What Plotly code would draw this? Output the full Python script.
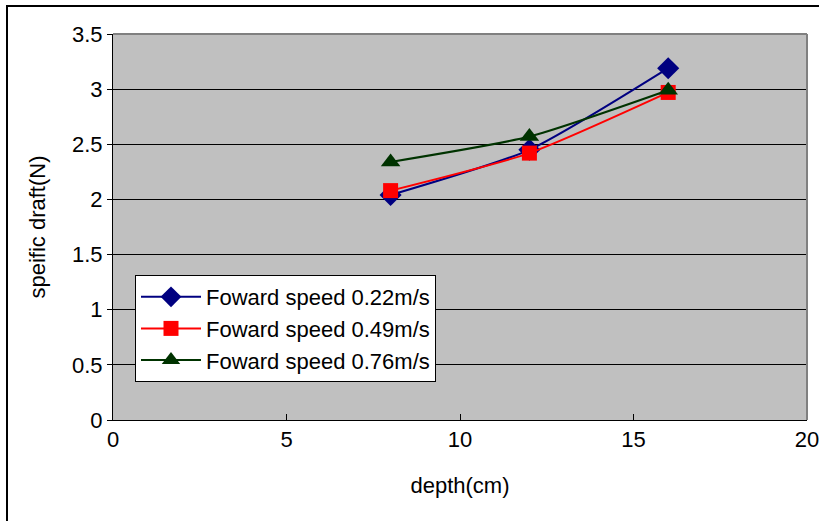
import plotly.graph_objects as go

depth = [8, 12, 16]
speed_022 = [2.04, 2.45, 3.19]
speed_049 = [2.08, 2.42, 2.97]
speed_076 = [2.34, 2.57, 2.99]
names = ["Foward speed 0.22m/s", "Foward speed 0.49m/s", "Foward speed 0.76m/s"]
y_ticks = [0, 0.5, 1, 1.5, 2, 2.5, 3, 3.5]
x_ticks = [0, 5, 10, 15, 20]

W, H = 819, 521
ML, MR, MT, MB = 113, 12, 34, 101
FONT = "Liberation Sans"
FS = 22

fig = go.Figure()
styles = [
    ("#000080", "diamond", 17, speed_022),
    ("#FF0000", "square", 15, speed_049),
    ("#003300", "triangle-up", 17, speed_076),
]
for (color, sym, size, ys), name in zip(styles, names):
    fig.add_trace(go.Scatter(
        x=depth, y=ys, name=name, mode="lines+markers",
        line=dict(color=color, width=2, shape="spline", smoothing=0.6),
        marker=dict(symbol=sym, size=size, color=color),
    ))

pw = W - ML - MR
ph = H - MT - MB
def px_to_paper_x(px):
    return (px - ML) / pw
def px_to_paper_y(py):
    return (H - MB - py) / ph

fig.update_layout(
    width=W, height=H,
    margin=dict(l=ML, r=MR, t=MT, b=MB, pad=0, autoexpand=False),
    paper_bgcolor="white",
    plot_bgcolor="#C0C0C0",
    font=dict(family=FONT, size=FS, color="black"),
    showlegend=True,
    legend=dict(
        x=px_to_paper_x(135), y=px_to_paper_y(275),
        xanchor="left", yanchor="top",
        bgcolor="white", bordercolor="black", borderwidth=1,
        font=dict(family=FONT, size=FS),
        itemwidth=60, tracegroupgap=0,
    ),
    xaxis=dict(
        range=[0, 20], tickvals=x_ticks, ticktext=[str(v) for v in x_ticks],
        showgrid=False, zeroline=False, automargin=False,
        ticklabeloverflow="allow",
        ticks="inside", ticklen=6, tickcolor="black",
        showline=True, linecolor="black", linewidth=1, mirror=False,
        title=dict(text="depth(cm)", font=dict(family=FONT, size=FS), standoff=26),
        tickfont=dict(family=FONT, size=FS),
    ),
    yaxis=dict(
        range=[0, 3.5], tickvals=y_ticks, ticktext=[f"{v:g}" for v in y_ticks],
        showgrid=True, gridcolor="black", gridwidth=1,
        zeroline=False, automargin=False,
        ticklabeloverflow="allow",
        ticks="outside", ticklen=5, tickcolor="black",
        showline=True, linecolor="black", linewidth=1,
        title=dict(text="speific draft(N)", font=dict(family=FONT, size=FS), standoff=20),
        tickfont=dict(family=FONT, size=FS),
    ),
    shapes=[
        dict(type="line", xref="paper", yref="paper", x0=0, x1=1, y0=1, y1=1,
             line=dict(color="#808080", width=2)),
        dict(type="line", xref="paper", yref="paper", x0=1, x1=1, y0=0, y1=1,
             line=dict(color="#808080", width=2)),
        dict(type="rect", xref="paper", yref="paper",
             x0=px_to_paper_x(7), x1=px_to_paper_x(W + 20),
             y0=px_to_paper_y(H + 20), y1=px_to_paper_y(6),
             line=dict(color="black", width=2), fillcolor="rgba(0,0,0,0)", layer="below"),
    ],
)

fig.write_html("out.html")
